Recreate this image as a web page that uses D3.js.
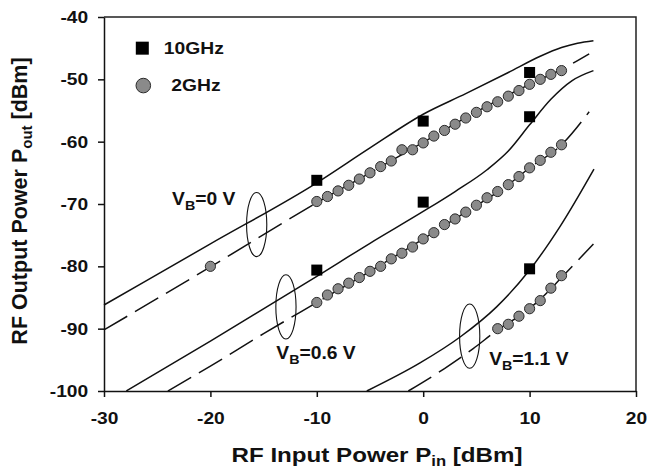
<!DOCTYPE html>
<html><head><meta charset="utf-8">
<script src="https://cdn.jsdelivr.net/npm/d3@7/dist/d3.min.js"></script>
<style>
html,body{margin:0;padding:0;background:#fff;}
svg{display:block;font-family:Arial,"Liberation Sans",sans-serif;font-weight:bold;}
</style>
</head><body>
<svg id="chart" width="647" height="471"></svg>
<script>
// ---- data ----
const xTicks = [-30, -20, -10, 0, 10, 20];
const yTicks = [-100, -90, -80, -70, -60, -50, -40];

// 10 GHz measured points (squares)
const sq10X = [-10, 0, 10, -10, 0, 10, 10];
const sq10Y = [-66.2, -56.7, -48.9, -80.6, -69.7, -56.0, -80.4];

// 2 GHz measured points (circles)
const c0X = [-20, -10, -9, -8, -7, -6, -5, -4, -3, -2, -1, 0, 1, 2, 3, 4, 5, 6, 7, 8, 9, 10, 11, 12, 13];
const c0Y = [-80.0, -69.6, -68.8, -67.9, -67.0, -66.0, -65.0, -64.0, -63.1, -61.3, -61.3, -60.2, -59.1, -58.2, -57.2, -56.2, -55.3, -54.4, -53.6, -52.7, -51.8, -50.8, -50.0, -49.2, -48.6];
const c06X = [-10, -9, -8, -7, -6, -5, -4, -3, -2, -1, 0, 1, 2, 3, 4, 5, 6, 7, 8, 9, 10, 11, 12, 13];
const c06Y = [-85.8, -84.6, -83.6, -82.7, -81.8, -80.8, -80.0, -78.8, -77.9, -76.9, -75.6, -74.6, -73.3, -72.4, -71.3, -70.2, -69.0, -68.0, -66.9, -65.6, -64.2, -63.0, -61.7, -60.5];
const c11X = [7, 8, 9, 10, 11, 12, 13];
const c11Y = [-90.0, -89.3, -88.0, -86.8, -85.5, -83.5, -81.5];

// simulated curves: solid = 10 GHz, dashed = 2 GHz
const s0X = [-30, -20, -10, -5, 0, 4, 8, 11, 13, 14.5, 16];
const s0Y = [-86.2, -76.4, -66.6, -61.0, -55.6, -52.3, -48.9, -46.3, -44.9, -44.2, -43.8];
const d0X = [-30, -20, -10, -5, 0, 5, 10, 13, 15.6];
const d0Y = [-90.2, -80.1, -69.8, -65.0, -60.1, -55.2, -50.8, -48.4, -45.9];
const s06X = [-27.9, -20, -10, -5, 0, 3, 6, 8, 10, 12, 14, 16];
const s06Y = [-100, -92.0, -81.6, -76.3, -71.2, -68.0, -64.5, -61.5, -57.3, -53.2, -50.2, -48.6];
const d06X = [-24, -20, -15, -10, -5, 0, 4, 8, 10, 13, 15.6];
const d06Y = [-100, -96.0, -90.8, -85.8, -80.8, -75.6, -71.3, -66.9, -64.2, -60.5, -55.2];
const s11X = [-5.3, -0.3, 3.5, 6.9, 10, 12.9, 16.05];
const s11Y = [-100, -95.5, -91.3, -86.5, -80.6, -73.5, -64.4];
const d11X = [-1.4, 2, 4.7, 7, 9, 11, 13, 16];
const d11Y = [-100, -96.4, -93.2, -90.2, -88.0, -85.3, -81.8, -76.4];

// annotations
const annNames = ["0", "0.6", "1.1"];
const annTextX = [-23.6, -13.8, 6.2];
const annTextY = [-70.2, -94.9, -95.8];
const ellCX = [-15.65, -12.9, 4.37];
const ellCY = [-73.3, -86.5, -91.2];
const ellRX = 0.95, ellRY = 5.15;

const legendNames = ["10GHz", "2GHz"];
const legendX = -26.4;
const legendY = [-45.0, -51.0];

// ---- layout ----
const W = 647, H = 471;
const m = {left: 104, top: 17, right: 11, bottom: 80};
const svg = d3.select("#chart");
const x = d3.scaleLinear().domain([-30, 20]).range([m.left, W - m.right]);
const y = d3.scaleLinear().domain([-100, -40]).range([H - m.bottom, m.top]);
const SX = 1.13;
const ink = "#111";
const fmt = d => String(d);

// frame (top & right)
svg.append("path")
  .attr("d", `M${x(-30)},${y(-40)}H${x(20)}V${y(-100)}`)
  .attr("fill", "none").attr("stroke", "#222").attr("stroke-width", 1.5);

// axes
const gx = svg.append("g").attr("transform", `translate(0,${y(-100)})`)
  .call(d3.axisBottom(x).tickValues(xTicks).tickFormat(fmt).tickSize(6).tickPadding(15).tickSizeOuter(0));
const gy = svg.append("g").attr("transform", `translate(${x(-30)},0)`)
  .call(d3.axisLeft(y).tickValues(yTicks).tickFormat(fmt).tickSize(6).tickPadding(8).tickSizeOuter(0));
[gx, gy].forEach(g => {
  g.select(".domain").attr("stroke", ink).attr("stroke-width", 1.5);
  g.selectAll(".tick line").attr("stroke", ink).attr("stroke-width", 1.5);
  g.selectAll(".tick text").attr("fill", ink)
    .style("font-size", "17px").style("font-weight", "bold")
    .style("font-family", "Arial, 'Liberation Sans', sans-serif");
});
gx.selectAll(".tick text").attr("transform", `scale(${SX},1)`);
gy.selectAll(".tick text").attr("transform", `scale(${SX},1)`);

// lines
const line = d3.line().x(d => x(d[0])).y(d => y(d[1])).curve(d3.curveMonotoneX);
const zip = (a, b) => a.map((v, i) => [v, b[i]]);
const curves = [
  {X: s0X, Y: s0Y, dash: null}, {X: d0X, Y: d0Y, dash: "27,9"},
  {X: s06X, Y: s06Y, dash: null}, {X: d06X, Y: d06Y, dash: "27,9"},
  {X: s11X, Y: s11Y, dash: null}, {X: d11X, Y: d11Y, dash: "27,9"}
];
svg.append("g").selectAll("path").data(curves).join("path")
  .attr("d", c => line(zip(c.X, c.Y)))
  .attr("fill", "none").attr("stroke", ink).attr("stroke-width", 1.5)
  .attr("stroke-dasharray", c => c.dash);

// ellipses
svg.append("g").selectAll("ellipse").data(ellCX).join("ellipse")
  .attr("cx", (d) => x(d)).attr("cy", (d, i) => y(ellCY[i]))
  .attr("rx", x(ellRX) - x(0)).attr("ry", y(-ellRY) - y(0))
  .attr("fill", "none").attr("stroke", ink).attr("stroke-width", 1.1);

// circles
const circ = [].concat(zip(c0X, c0Y), zip(c06X, c06Y), zip(c11X, c11Y));
svg.append("g").selectAll("circle").data(circ).join("circle")
  .attr("cx", d => x(d[0])).attr("cy", d => y(d[1])).attr("r", 5.1)
  .attr("fill", "#8a8a8a").attr("stroke", "#2a2a2a").attr("stroke-width", 1);

// squares
const sqs = zip(sq10X, sq10Y);
const S = 11;
svg.append("g").selectAll("rect").data(sqs).join("rect")
  .attr("x", d => x(d[0]) - S / 2).attr("y", d => y(d[1]) - S / 2)
  .attr("width", S).attr("height", S).attr("fill", "#000");

// annotations text
annNames.forEach((n, i) => {
  const t = svg.append("text")
    .attr("transform", `translate(${x(annTextX[i])},${y(annTextY[i])}) scale(1.1,1)`)
    .style("font-size", "17.5px").attr("fill", ink);
  t.append("tspan").text("V");
  t.append("tspan").attr("dy", 5).style("font-size", "13px").text("B");
  t.append("tspan").attr("dy", -5).text("=" + n + " V");
});

// legend
const lg = svg.append("g");
lg.append("rect").attr("x", x(legendX) - 6.5).attr("y", y(legendY[0]) - 6.5)
  .attr("width", 13).attr("height", 13).attr("fill", "#000");
lg.append("circle").attr("cx", x(legendX) + 1).attr("cy", y(legendY[1])).attr("r", 7.3)
  .attr("fill", "#8a8a8a").attr("stroke", "#2a2a2a").attr("stroke-width", 1);
lg.append("text").attr("transform", `translate(${x(legendX) + 21.5},${y(legendY[0]) + 5.5}) scale(${SX + 0.04},1)`)
  .style("font-size", "16.5px").attr("fill", ink).text(legendNames[0]);
lg.append("text").attr("transform", `translate(${x(legendX) + 29},${y(legendY[1]) + 5}) scale(${SX + 0.04},1)`)
  .style("font-size", "16.5px").attr("fill", ink).text(legendNames[1]);

// axis titles
const xt = svg.append("text")
  .attr("transform", `translate(${(x(-30) + x(20)) / 2 + 7},462) scale(1.15,1)`)
  .attr("text-anchor", "middle").style("font-size", "21px").attr("fill", ink);
xt.append("tspan").text("RF Input Power P");
xt.append("tspan").attr("dy", 4).style("font-size", "14.5px").text("in");
xt.append("tspan").attr("dy", -4).text(" [dBm]");

const yt = svg.append("text")
  .attr("transform", `translate(27,${(y(-40) + y(-100)) / 2 - 3}) rotate(-90)`)
  .attr("text-anchor", "middle").style("font-size", "21.5px").attr("fill", ink);
yt.append("tspan").text("RF Output Power P");
yt.append("tspan").attr("dy", 5).style("font-size", "15px").text("out");
yt.append("tspan").attr("dy", -5).text(" [dBm]");
</script>
</body></html>
